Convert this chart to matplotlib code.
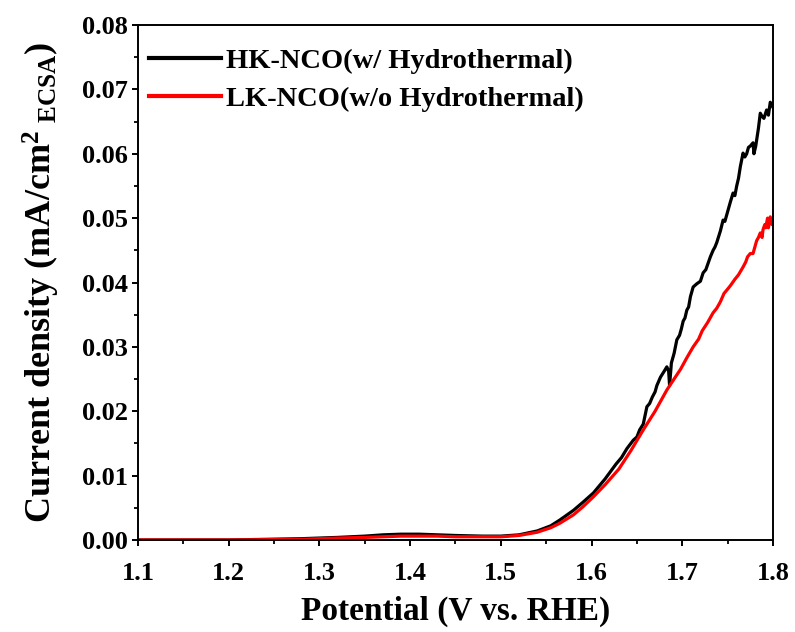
import matplotlib
matplotlib.use("Agg")
import matplotlib.pyplot as plt
from matplotlib.ticker import MultipleLocator, FormatStrFormatter

plt.rcParams['font.family'] = ['Liberation Serif', 'DejaVu Serif']
plt.rcParams['font.weight'] = 'bold'
plt.rcParams['mathtext.fontset'] = 'custom'
plt.rcParams['mathtext.rm'] = 'Liberation Serif:bold'
plt.rcParams['mathtext.bf'] = 'Liberation Serif:bold'
plt.rcParams['mathtext.it'] = 'Liberation Serif:bold'

# HK-NCO (w/ Hydrothermal)
hk_x = [1.10, 1.20, 1.28, 1.32, 1.35, 1.37, 1.39, 1.41, 1.43, 1.45, 1.48, 1.50, 1.52, 1.54, 1.555,
        1.565, 1.58, 1.59, 1.602, 1.615, 1.627, 1.633, 1.639, 1.646, 1.650, 1.653, 1.657, 1.661,
        1.664, 1.667, 1.670, 1.672, 1.676, 1.680, 1.683, 1.685, 1.686, 1.688, 1.691, 1.694, 1.697,
        1.699, 1.701, 1.703, 1.705, 1.707, 1.709, 1.712, 1.716, 1.720, 1.723, 1.726, 1.728, 1.731,
        1.734, 1.736, 1.738, 1.742, 1.745, 1.747, 1.749, 1.753, 1.756, 1.758, 1.760, 1.762, 1.764,
        1.767, 1.769, 1.771, 1.773, 1.775, 1.778, 1.779, 1.781, 1.784, 1.786, 1.788, 1.790, 1.793,
        1.795, 1.797, 1.800]
hk_y = [0.0000, 0.0000, 0.0002, 0.0004, 0.0006, 0.0008, 0.0009, 0.0009, 0.0008, 0.0007, 0.0006, 0.0006,
        0.0008, 0.0014, 0.0022,
        0.0031, 0.0046, 0.0058, 0.0073, 0.0095, 0.0118, 0.0128, 0.0142, 0.0155, 0.0160, 0.0171, 0.0180,
        0.0207,
        0.0212, 0.0222, 0.0230, 0.0240, 0.0253, 0.0262, 0.0269, 0.0262, 0.0240, 0.0275, 0.0290, 0.0311,
        0.0318,
        0.0328, 0.0340, 0.0345, 0.0357, 0.0362, 0.0378, 0.0393, 0.0398, 0.0402, 0.0415, 0.0420, 0.0428,
        0.0440,
        0.0450, 0.0455, 0.0462, 0.0480, 0.0497, 0.0495, 0.0505, 0.0525, 0.0539, 0.0535, 0.0550, 0.0562,
        0.0580,
        0.0601, 0.0595, 0.0600, 0.0610, 0.0612, 0.0617, 0.0600, 0.0612, 0.0640, 0.0663, 0.0658, 0.0655,
        0.0668,
        0.0660, 0.0680, 0.0672]

# LK-NCO (w/o Hydrothermal)
lk_x = [1.10, 1.20, 1.28, 1.32, 1.35, 1.37, 1.39, 1.41, 1.43, 1.45, 1.48, 1.50, 1.52, 1.54, 1.555,
        1.565, 1.58, 1.59, 1.602, 1.615, 1.630, 1.643, 1.657, 1.670, 1.683, 1.690, 1.698, 1.705,
        1.712, 1.718, 1.722, 1.728, 1.734, 1.738, 1.742, 1.746, 1.749, 1.753, 1.758, 1.762, 1.767,
        1.770, 1.772, 1.775, 1.778, 1.780, 1.782, 1.784, 1.786, 1.788, 1.789, 1.791, 1.792, 1.794,
        1.795, 1.797, 1.799, 1.800]
lk_y = [0.0000, 0.0000, 0.0001, 0.0003, 0.0004, 0.0005, 0.0006, 0.0006, 0.0006, 0.0005, 0.0005, 0.0005,
        0.0007, 0.0012, 0.0019,
        0.0026, 0.0039, 0.0051, 0.0067, 0.0086, 0.0110, 0.0138, 0.0171, 0.0200, 0.0233, 0.0248, 0.0265,
        0.0283,
        0.0300, 0.0312, 0.0325, 0.0338, 0.0353, 0.0360, 0.0370, 0.0383, 0.0388, 0.0395, 0.0405, 0.0412,
        0.0424,
        0.0432, 0.0440, 0.0445, 0.0445, 0.0455, 0.0465, 0.0470, 0.0477, 0.0470, 0.0482, 0.0490, 0.0485,
        0.0500,
        0.0485, 0.0502, 0.0490, 0.0495]

x_ticks = [1.1, 1.2, 1.3, 1.4, 1.5, 1.6, 1.7, 1.8]
y_ticks = [0.00, 0.01, 0.02, 0.03, 0.04, 0.05, 0.06, 0.07, 0.08]

fig = plt.figure(figsize=(7.95, 6.32), dpi=100)
ax = fig.add_axes([0.1736, 0.1456, 0.7987, 0.8148])

ax.plot(hk_x, hk_y, color='black', lw=2.3, label='HK-NCO(w/ Hydrothermal)')
ax.plot(lk_x, lk_y, color='#ff0000', lw=2.3, label='LK-NCO(w/o Hydrothermal)')

ax.set_xlim(1.1, 1.8)
ax.set_ylim(0.0, 0.08)
ax.set_xticks(x_ticks)
ax.set_yticks(y_ticks)
ax.xaxis.set_minor_locator(MultipleLocator(0.05))
ax.yaxis.set_minor_locator(MultipleLocator(0.005))
ax.yaxis.set_major_formatter(FormatStrFormatter('%.2f'))
ax.xaxis.set_major_formatter(FormatStrFormatter('%.1f'))

ax.tick_params(which='major', direction='out', length=4.5, width=1.4, labelsize=19)
ax.tick_params(axis='y', which='major', pad=3)
ax.tick_params(axis='x', which='major', pad=11)
ax.tick_params(which='minor', direction='out', length=3.2, width=1.3)
for lab in ax.get_xticklabels() + ax.get_yticklabels():
    lab.set_fontweight('bold')
for s in ax.spines.values():
    s.set_linewidth(1.4)

ax.set_xlabel('Potential (V vs. RHE)', fontsize=24, fontweight='bold')
ax.xaxis.set_label_coords(0.5, -0.108)
ax.set_ylabel(r'Current density (mA/cm$^{2}$$_{\ \mathrm{ECSA}}$)', fontsize=26, fontweight='bold')
ax.yaxis.set_label_coords(-0.12, 0.5)

leg = ax.legend(loc='upper left', bbox_to_anchor=(0.0, 0.977), frameon=False,
                handlelength=2.5, handletextpad=0.2, borderaxespad=0.0, borderpad=0.4,
                labelspacing=0.4, prop={'weight': 'bold', 'size': 20.5})
for line in leg.get_lines():
    line.set_linewidth(3.0)

fig.savefig('out.png', dpi=100)
